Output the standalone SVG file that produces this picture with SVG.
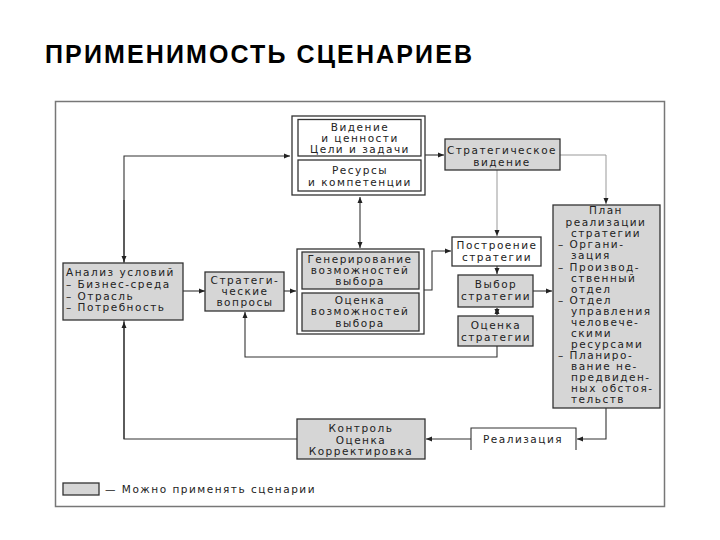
<svg xmlns="http://www.w3.org/2000/svg" width="720" height="540" viewBox="0 0 720 540">
<style>
.t{font-family:"DejaVu Sans",sans-serif;font-size:10.5px;letter-spacing:1.5px;fill:#222}
.c{text-anchor:middle}
.box{stroke:#333;stroke-width:1.3;fill:#fff}
.g{fill:#d6d6d6}
.ln{fill:none;stroke:#333;stroke-width:1.1}
.lg{fill:none;stroke:#999;stroke-width:1}
</style>
<defs>
<marker id="ah" markerUnits="userSpaceOnUse" markerWidth="6" markerHeight="6" refX="6" refY="3" orient="auto-start-reverse"><path d="M0,0.5 L6,3 L0,5.5 z" fill="#222"/></marker>
</defs>
<rect width="720" height="540" fill="#fff"/>
<text x="45" y="63" font-family="Liberation Sans, Arial, sans-serif" font-weight="bold" font-size="25" textLength="427" lengthAdjust="spacing" fill="#000">ПРИМЕНИМОСТЬ СЦЕНАРИЕВ</text>
<rect x="55.5" y="101.5" width="609" height="405" fill="none" stroke="#777" stroke-width="1.5"/>

<g id="connectors">
<path class="ln" d="M124,439 V156 H290" marker-end="url(#ah)"/>
<path class="ln" d="M124,200 V262" marker-end="url(#ah)"/>
<path class="ln" d="M297,439 H124 V322" marker-end="url(#ah)"/>
<path class="ln" d="M425,155 H444" marker-end="url(#ah)"/>
<path class="lg" d="M560,155 H606 V204" marker-end="url(#ah)"/>
<path class="lg" d="M497,170 V236" marker-end="url(#ah)"/>
<path class="ln" d="M360,197 V248" marker-start="url(#ah)" marker-end="url(#ah)" stroke-width="1.6"/>
<path class="ln" d="M183,291 H205" marker-end="url(#ah)"/>
<path class="ln" d="M284,291 H296" marker-end="url(#ah)"/>
<path class="ln" d="M424,290 H432 V251 H451" marker-end="url(#ah)"/>
<path class="ln" d="M497,266 V274" marker-end="url(#ah)"/>
<path class="ln" d="M497,308 V315" marker-start="url(#ah)" marker-end="url(#ah)"/>
<path class="ln" d="M533,291 H552" marker-end="url(#ah)"/>
<path class="ln" d="M497,346 V357 H245 V312" marker-end="url(#ah)"/>
<path class="ln" d="M606,408 V439 H577" marker-end="url(#ah)"/>
<path class="ln" d="M471,439 H426" marker-end="url(#ah)"/>
</g>

<g id="top-group">
<rect class="box" x="292" y="116" width="133" height="79"/>
<rect class="box" x="298" y="119.5" width="123" height="36.5"/>
<rect class="box" x="298" y="160" width="123" height="31"/>
<text class="t c" x="360" y="131">Видение</text>
<text class="t c" x="360" y="142">и ценности</text>
<text class="t c" x="360" y="153">Цели и задачи</text>
<text class="t c" x="360" y="174">Ресурсы</text>
<text class="t c" x="360" y="186">и компетенции</text>
</g>

<g id="strat-vision">
<rect class="box g" x="445" y="139" width="115" height="31"/>
<text class="t c" x="502" y="154">Стратегическое</text>
<text class="t c" x="502" y="166">видение</text>
</g>

<g id="plan">
<rect class="box g" x="553" y="205" width="107" height="203"/>
<text class="t c" x="606" y="214">План</text>
<text class="t c" x="606" y="226">реализации</text>
<text class="t c" x="606" y="237">стратегии</text>
<text class="t" x="558" y="248">– Органи-</text>
<text class="t" x="571" y="259">зация</text>
<text class="t" x="558" y="271">– Производ-</text>
<text class="t" x="571" y="282">ственный</text>
<text class="t" x="571" y="293">отдел</text>
<text class="t" x="558" y="304">– Отдел</text>
<text class="t" x="571" y="315">управления</text>
<text class="t" x="571" y="326">человече-</text>
<text class="t" x="571" y="337">скими</text>
<text class="t" x="571" y="348">ресурсами</text>
<text class="t" x="558" y="359">– Планиро-</text>
<text class="t" x="571" y="370">вание не-</text>
<text class="t" x="571" y="381">предвиден-</text>
<text class="t" x="571" y="392">ных обстоя-</text>
<text class="t" x="571" y="403">тельств</text>
</g>

<g id="analysis">
<rect class="box g" x="63" y="263" width="120" height="57"/>
<text class="t" x="66" y="276">Анализ условий</text>
<text class="t" x="66" y="288">– Бизнес-среда</text>
<text class="t" x="66" y="300">– Отрасль</text>
<text class="t" x="66" y="311">– Потребность</text>
</g>

<g id="strat-questions">
<rect class="box g" x="205" y="272" width="79" height="39"/>
<text class="t c" x="245" y="284">Стратеги-</text>
<text class="t c" x="245" y="295">ческие</text>
<text class="t c" x="245" y="306">вопросы</text>
</g>

<g id="generation">
<rect class="box" x="297" y="249" width="127" height="85"/>
<rect class="box g" x="302" y="252" width="117" height="37"/>
<rect class="box g" x="302" y="293" width="117" height="38"/>
<text class="t c" x="360" y="263">Генерирование</text>
<text class="t c" x="360" y="274">возможностей</text>
<text class="t c" x="360" y="285">выбора</text>
<text class="t c" x="360" y="304">Оценка</text>
<text class="t c" x="360" y="315">возможностей</text>
<text class="t c" x="360" y="327">выбора</text>
</g>

<g id="build">
<rect class="box" x="452" y="237" width="89" height="29" stroke="#666"/>
<text class="t c" x="497" y="249">Построение</text>
<text class="t c" x="497" y="261">стратегии</text>
</g>

<g id="choice">
<rect class="box g" x="458" y="275" width="75" height="32"/>
<text class="t c" x="496" y="288">Выбор</text>
<text class="t c" x="496" y="300">стратегии</text>
</g>

<g id="eval">
<rect class="box g" x="458" y="316" width="75" height="30"/>
<text class="t c" x="496" y="329">Оценка</text>
<text class="t c" x="496" y="341">стратегии</text>
</g>

<g id="control">
<rect class="box g" x="297" y="419" width="128" height="40"/>
<text class="t c" x="361" y="432">Контроль</text>
<text class="t c" x="361" y="444">Оценка</text>
<text class="t c" x="361" y="455">Корректировка</text>
</g>

<g id="realization">
<path d="M471,450 V428 H576 V450" fill="#fff" stroke="#333" stroke-width="1.1"/>
<text class="t c" x="523" y="443">Реализация</text>
</g>

<g id="legend">
<rect class="box g" x="63" y="483" width="36" height="12" stroke="#555"/>
<text class="t" x="105" y="493">— Можно применять сценарии</text>
</g>
</svg>
